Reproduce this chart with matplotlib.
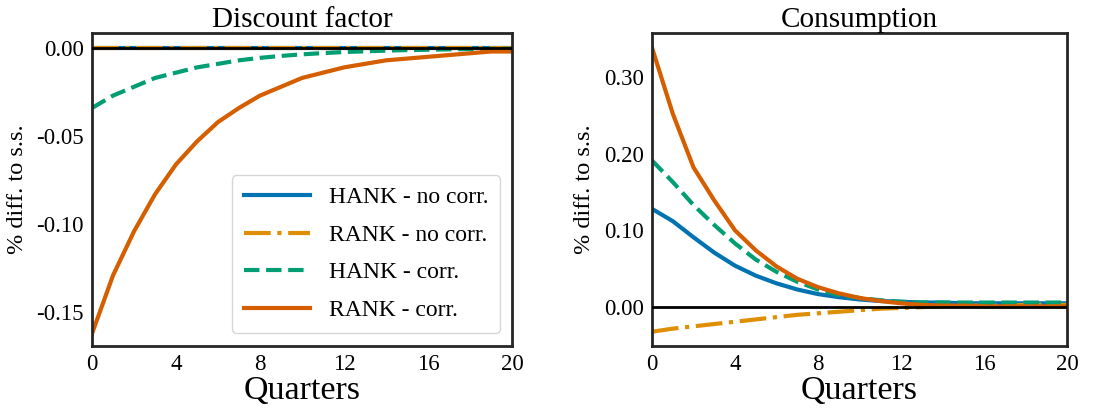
import matplotlib.pyplot as plt
from matplotlib.ticker import FixedLocator, FixedFormatter

plt.rcParams['font.family'] = ['Liberation Serif', 'DejaVu Serif']

quarters = list(range(21))

# discount factor responses (% diff. to s.s.)
beta_hank_nocorr = [0.0] * 21
beta_rank_nocorr = [0.0] * 21
beta_hank_corr = [-0.034, -0.027, -0.022, -0.017, -0.014, -0.011, -0.009, -0.007,
                  -0.0056, -0.0045, -0.0036, -0.0029, -0.0023, -0.0019, -0.0015,
                  -0.0012, -0.0010, -0.0008, -0.0006, -0.0005, -0.0004]
beta_rank_corr = [-0.162, -0.129, -0.104, -0.083, -0.066, -0.053, -0.042, -0.034,
                  -0.027, -0.022, -0.017, -0.014, -0.011, -0.009, -0.007, -0.006,
                  -0.005, -0.004, -0.003, -0.002, -0.002]

# consumption responses (% diff. to s.s.)
c_hank_nocorr = [0.128, 0.112, 0.091, 0.071, 0.054, 0.041, 0.031, 0.023, 0.017,
                 0.013, 0.010, 0.008, 0.007, 0.006, 0.006, 0.005, 0.005, 0.005,
                 0.005, 0.005, 0.005]
c_rank_nocorr = [-0.032, -0.028, -0.025, -0.022, -0.019, -0.016, -0.013, -0.010,
                 -0.008, -0.006, -0.004, -0.002, -0.001, 0.000, 0.001, 0.002,
                 0.002, 0.002, 0.003, 0.003, 0.003]
c_hank_corr = [0.191, 0.163, 0.133, 0.107, 0.083, 0.062, 0.046, 0.033, 0.023,
               0.016, 0.012, 0.009, 0.007, 0.006, 0.006, 0.006, 0.006, 0.006,
               0.006, 0.006, 0.006]
c_rank_corr = [0.338, 0.252, 0.182, 0.139, 0.100, 0.074, 0.053, 0.037, 0.026,
               0.018, 0.012, 0.008, 0.005, 0.003, 0.002, 0.002, 0.001, 0.001,
               0.001, 0.001, 0.001]

labels = ['HANK - no corr.', 'RANK - no corr.', 'HANK - corr.', 'RANK - corr.']
colors = ['#0173B2', '#DE8F05', '#029E73', '#D55E00']
styles = ['-', '-.', '--', '-']

x_ticks = [0, 4, 8, 12, 16, 20]
left_yticks = [0.0, -0.05, -0.10, -0.15]
left_ylabels = ['0.00', '-0.05', '-0.10', '-0.15']
right_yticks = [0.0, 0.10, 0.20, 0.30]
right_ylabels = ['0.00', '0.10', '0.20', '0.30']

fig = plt.figure(figsize=(11.07, 4.17), dpi=100)
ax1 = fig.add_axes([92 / 1107, 71 / 417, 420 / 1107, 313 / 417])
ax2 = fig.add_axes([652 / 1107, 71 / 417, 415 / 1107, 313 / 417])


def draw_panel(ax, series, title, ylim, yticks, ylabels):
    for y, lab, col, ls in zip(series, labels, colors, styles):
        ax.plot(quarters, y, ls, color=col, lw=3, label=lab)
    ax.axhline(0, color='black', lw=2, zorder=5)
    ax.set_xlim(0, 20)
    ax.set_ylim(*ylim)
    ax.xaxis.set_major_locator(FixedLocator(x_ticks))
    ax.yaxis.set_major_locator(FixedLocator(yticks))
    ax.yaxis.set_major_formatter(FixedFormatter(ylabels))
    ax.tick_params(length=0, labelsize=16.5, pad=6)
    ax.set_title(title, fontsize=21, pad=3)
    ax.set_xlabel('Quarters', fontsize=24.5, labelpad=0)
    ax.set_ylabel('% diff. to s.s.', fontsize=17.5, labelpad=6)
    for sp in ax.spines.values():
        sp.set_color('#262626')
        sp.set_linewidth(2)


draw_panel(ax1, [beta_hank_nocorr, beta_rank_nocorr, beta_hank_corr, beta_rank_corr],
           'Discount factor', (-0.169, 0.0085), left_yticks, left_ylabels)
draw_panel(ax2, [c_hank_nocorr, c_rank_nocorr, c_hank_corr, c_rank_corr],
           'Consumption', (-0.0506, 0.357), right_yticks, right_ylabels)

ax1.legend(loc='lower right', fontsize=17, frameon=True, fancybox=True,
           edgecolor='#cccccc', handlelength=2.8, handletextpad=0.8,
           borderpad=0.5, labelspacing=0.68, borderaxespad=0,
           bbox_to_anchor=(0.971, 0.042))

fig.savefig('out.png', dpi=100)
